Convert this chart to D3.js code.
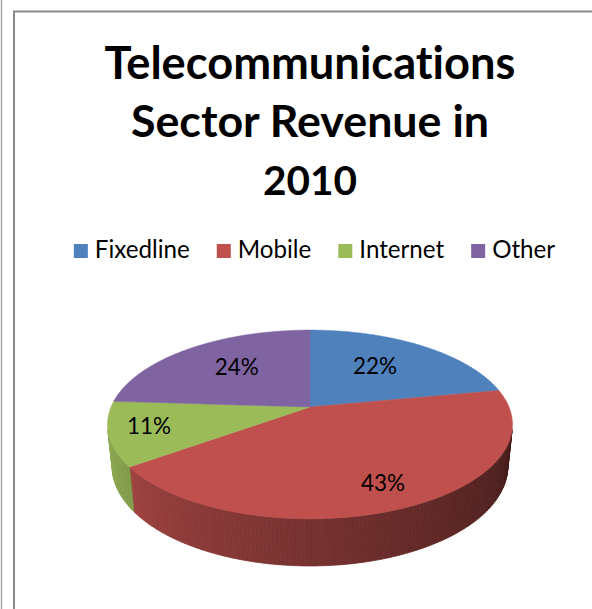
<!DOCTYPE html>
<html>
<head>
<meta charset="utf-8">
<script src="https://cdn.jsdelivr.net/npm/d3@7"></script>
<style>
  html, body { margin: 0; padding: 0; background: #fff; }
  svg { display: block; }
  text { font-variant-ligatures: none; font-feature-settings: "liga" 0; }
</style>
</head>
<body>
<svg id="chart" width="592" height="609"></svg>
<script>
// Revenue share by segment, 2010
const categories = ["Fixedline", "Mobile", "Internet", "Other"];
const shares = [22, 43, 11, 24];
const colors = ["#4f81bd", "#c0504d", "#9bbb59", "#8064a2"];
const titleLines = ["Telecommunications", "Sector Revenue in", "2010"];

const FONT = "Lato, 'Open Sans', 'Liberation Sans', sans-serif";
const svg = d3.select("#chart");
const W = 592, H = 609;

// chart frame
svg.append("line").attr("x1", 1.5).attr("x2", 1.5).attr("y1", 0).attr("y2", H)
  .attr("stroke", "#a6a6a6").attr("stroke-width", 1.5);
svg.append("rect").attr("x", 14).attr("y", 11.5).attr("width", W + 20).attr("height", H + 20)
  .attr("fill", "#fff").attr("stroke", "#8c8c8c").attr("stroke-width", 2);

// fit a text element's font size so its width equals the target width
function fitText(sel, target, start) {
  sel.style("font-size", start + "px");
  const w = sel.node().getComputedTextLength();
  const size = start * target / w;
  sel.style("font-size", size + "px");
  return size;
}

// title
const titleWidths = [411, 358, 94];
const titleBase = [79, 137, 195];
titleLines.forEach((t, i) => {
  const el = svg.append("text").attr("x", 310).attr("y", titleBase[i])
    .attr("text-anchor", "middle").attr("font-family", FONT).attr("font-weight", 700)
    .attr("fill", "#000").text(t);
  fitText(el, titleWidths[i], 46);
});

// legend
const legend = svg.append("g");
const probe = legend.append("text").attr("font-family", FONT).text(categories[0]);
const legendSize = fitText(probe, 95, 22);
probe.remove();
const sq = 14, gapText = 7, gapItem = 27;
let lx = 0;
categories.forEach((c, i) => {
  const g = legend.append("g").attr("transform", `translate(${lx},0)`);
  g.append("rect").attr("x", 0).attr("y", -sq).attr("width", sq).attr("height", sq).attr("fill", colors[i]);
  const t = g.append("text").attr("x", sq + gapText).attr("y", 0).attr("font-family", FONT)
    .style("font-size", legendSize + "px").attr("fill", "#000").text(c);
  lx += sq + gapText + t.node().getComputedTextLength() + gapItem;
});
const legendW = lx - gapItem;
legend.attr("transform", `translate(${314.5 - legendW / 2},258)`);

// 3D pie: perspective projection of a tilted disc
const cx = 310, cy = 407;      // screen position of the disc centre
const F = 956.7, D = 1;        // focal length and camera distance
const R = 0.208, depth = 0.0494;
const sinP = 0.458, cosP = Math.sqrt(1 - sinP * sinP);

function proj(theta, rf, y) {
  const x = R * rf * Math.sin(theta), z = R * rf * Math.cos(theta);
  const Y = z * sinP + y * cosP;
  const Zc = D + z * cosP - y * sinP;
  return [cx + F * x / Zc, cy - F * Y / Zc];
}

const pie = d3.pie().sort(null).value(d => d);
const arcs = pie(shares);
const line = d3.line();
const step = Math.PI / 360;

function arcPoints(a0, a1, y) {
  const n = Math.max(2, Math.ceil((a1 - a0) / step));
  return d3.range(n + 1).map(k => proj(a0 + (a1 - a0) * k / n, 1, y));
}

// outer wall, visible where the wall faces the camera; lit from the left
const thVis = Math.acos(-R / (D * cosP));
const visA = thVis, visB = 2 * Math.PI - thVis;
function shade(theta) {
  const t = (theta - visA) / (visB - visA);
  return 0.36 + Math.pow(t, 1.1) * 0.55;
}
const wallLayer = svg.append("g");
arcs.forEach((a, i) => {
  const s = Math.max(a.startAngle, visA), e = Math.min(a.endAngle, visB);
  if (e <= s) return;
  const n = Math.ceil((e - s) / (Math.PI / 180));
  const base = d3.rgb(colors[i]);
  for (let k = 0; k < n; k++) {
    const t0 = s + (e - s) * k / n, t1 = s + (e - s) * (k + 1) / n;
    const m = shade((t0 + t1) / 2);
    const col = d3.rgb(base.r * m, base.g * m, base.b * m).formatHex();
    const pts = arcPoints(t0, t1, 0).concat(arcPoints(t0, t1, -depth).reverse());
    wallLayer.append("path").attr("d", line(pts) + "Z").attr("fill", col)
      .attr("stroke", col).attr("stroke-width", 0.8);
  }
});

// top faces
const faceLayer = svg.append("g");
arcs.forEach((a, i) => {
  const pts = [proj(0, 0, 0)].concat(arcPoints(a.startAngle, a.endAngle, 0));
  faceLayer.append("path").attr("d", line(pts) + "Z").attr("fill", colors[i])
    .attr("stroke", colors[i]).attr("stroke-width", 0.5);
});

// percentage labels, placed on the disc in (angle, radius fraction)
const labelSpots = [[35.3, 0.617], [156, 0.782], [255.6, 0.805], [320.7, 0.634]];
const labelLayer = svg.append("g");
arcs.forEach((a, i) => {
  const [deg, rf] = labelSpots[i];
  const p = proj(deg * Math.PI / 180, rf, 0);
  const pct = Math.round(100 * (a.endAngle - a.startAngle) / (2 * Math.PI));
  const t = labelLayer.append("text").attr("x", p[0]).attr("y", p[1])
    .attr("text-anchor", "middle").attr("dominant-baseline", "central")
    .attr("font-family", FONT).attr("fill", "#000").text(pct + "%");
  fitText(t, 44, 24);
});
</script>
</body>
</html>
